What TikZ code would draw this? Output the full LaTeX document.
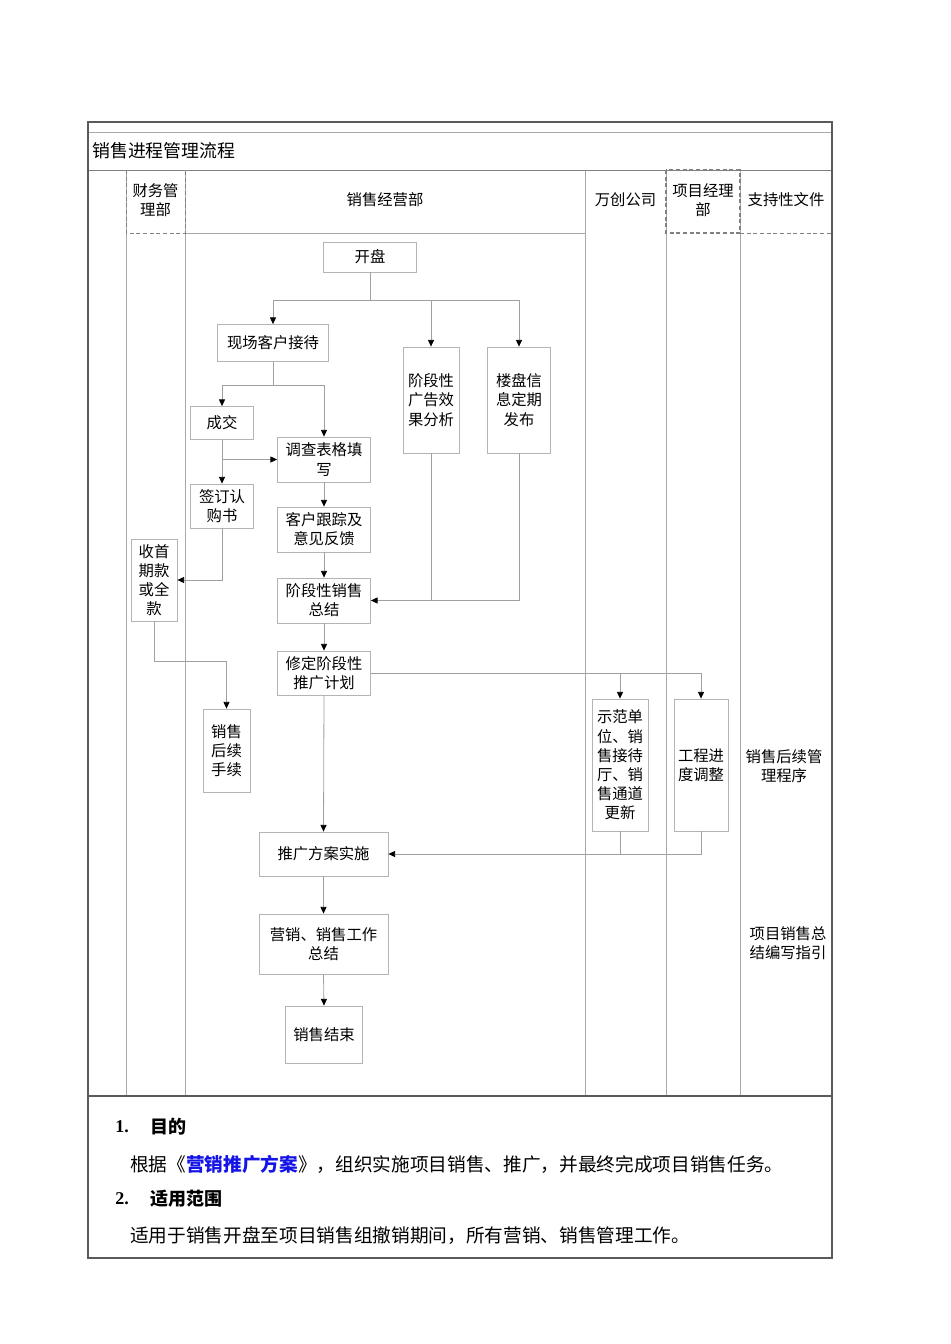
\documentclass[tikz,border=0pt]{standalone}
\usepackage{fontspec}
\setmainfont{Noto Sans CJK SC}
\newfontfamily\tnr{Liberation Serif}
\usetikzlibrary{arrows.meta}
\definecolor{linegray}{HTML}{A0A0A0}
\definecolor{boxgray}{HTML}{B4B4B4}
\definecolor{lanegray}{HTML}{A8A8A8}
\definecolor{framegray}{HTML}{5A5A5A}
\definecolor{linkblue}{HTML}{1414E6}
\begin{document}
\begin{tikzpicture}[x=0.75pt,y=-0.75pt,
  every node/.style={font=\fontsize{11.5}{14.4}\selectfont, inner sep=0pt, align=center},
  fbox/.style 2 args={draw=boxgray, line width=0.6pt, minimum width=#1*0.75pt, minimum height=#2*0.75pt},
  link/.style={draw=linegray, line width=0.6pt},
  flow/.style={link, -{Triangle[length=5pt,width=4.5pt,color=black]}},
  hdash/.style={draw=gray, line width=0.7pt, densely dashed}
]
\useasboundingbox (0,0) rectangle (950,1344);
% table frame
\draw[lanegray, line width=0.6pt] (88,132) -- (832,132);
\draw[gray, line width=0.6pt] (88,170) -- (832,170);
\foreach \x in {126,185,585,666,740} \draw[lanegray, line width=0.6pt] (\x,170) -- (\x,1096);
\draw[lanegray, line width=0.6pt] (185,233) -- (585,233);
\draw[hdash] (126,170) rectangle (185,233);
\draw[hdash] (585,170) -- (666,170);
\draw[hdash, line width=0.9pt] (666,170) rectangle (740,233);
\draw[hdash] (740,170) -- (832,170);
\draw[hdash] (740,233) -- (832,233);
\draw[framegray, line width=0.8pt] (88,1096) -- (832,1096);
\draw[framegray, line width=0.8pt] (88,122) rectangle (832,1258);

% title and headers
\node[anchor=west, font=\fontsize{13.4}{16}\selectfont] (title) at (92,151) {销售进程管理流程};
\node (h1) at (155.5,200) {财务管\\理部};
\node (h2) at (385,200) {销售经营部};
\node (h3) at (625.5,200) {万创公司};
\node (h4) at (703,200) {项目经理\\部};
\node (h5) at (786,200) {支持性文件};

% flow nodes
\node[fbox={93}{30}] (kp) at (370,257) {开盘};
\node[fbox={111}{37}] (xc) at (273,343) {现场客户接待};
\node[fbox={56}{106}] (jdg) at (431,400) {阶段性\\广告效\\果分析};
\node[fbox={63}{106}] (lp) at (519,400) {楼盘信\\息定期\\发布};
\node[fbox={63}{33}] (cj) at (222,423) {成交};
\node[fbox={93}{45}] (dc) at (324,459.5) {调查表格填\\写};
\node[fbox={63}{44}] (qd) at (222,506) {签订认\\购书};
\node[fbox={93}{45}] (kh) at (324,529.5) {客户跟踪及\\意见反馈};
\node[fbox={46}{82}] (ss) at (154,580) {收首\\期款\\或全\\款};
\node[fbox={93}{45}] (jdx) at (324,600.5) {阶段性销售\\总结};
\node[fbox={93}{44}] (xd) at (324,673) {修定阶段性\\推广计划};
\node[fbox={47}{83}] (sh) at (226.5,750.5) {销售\\后续\\手续};
\node[fbox={56}{132}] (sf) at (620,765) {示范单\\位、销\\售接待\\厅、销\\售通道\\更新};
\node[fbox={54}{132}] (gc) at (701,765) {工程进\\度调整};
\node[fbox={129}{44}] (tg) at (323.5,854) {推广方案实施};
\node[fbox={129}{60}] (yx) at (323.5,944) {营销、销售工作\\总结};
\node[fbox={77}{57}] (js) at (324,1034.5) {销售结束};

% side documents
\node (sd1) at (784,766) {销售后续管\\理程序};
\node (sd2) at (788,943) {项目销售总\\结编写指引};

% connectors
\coordinate (b1) at (370,300);
\draw[link] (kp.south) -- (b1);
\draw[flow] (b1) -| (xc.north);
\draw[flow] (b1) -| (jdg.north);
\draw[flow] (b1) -| (lp.north);
\coordinate (b2) at (273,385);
\draw[link] (xc.south) -- (b2);
\draw[flow] (b2) -| (cj.north);
\draw[flow] (b2) -| (dc.north);
\draw[flow] (cj.south) -- (qd.north);
\coordinate (b3) at (222,459.5);
\draw[flow] (b3) -- (dc.west);
\draw[flow] (qd.south) |- (ss.east);
\draw[flow] (dc.south) -- (kh.north);
\draw[flow] (kh.south) -- (jdx.north);
\draw[link] (jdg.south) -- (jdg.south |- jdx.east);
\draw[flow] (lp.south) |- (jdx.east);
\draw[flow] (jdx.south) -- (xd.north);
\coordinate (b4) at (154,661);
\draw[link] (ss.south) -- (b4);
\draw[flow] (b4) -| (sh.north);
\draw[flow] (xd.south) -- (tg.north);
\draw[flow] (xd.east) -| (gc.north);
\draw[flow] (xd.east -| sf.north) -- (sf.north);
\draw[link] (sf.south) -- (sf.south |- tg.east);
\draw[flow] (gc.south) |- (tg.east);
\draw[flow] (tg.south) -- (yx.north);
\draw[flow] (yx.south) -- (js.north);

% text below
\node[anchor=west, font=\tnr\bfseries\fontsize{13.5}{16}\selectfont] (n1) at (115,1127) {1.};
\node[anchor=west, font=\bfseries\fontsize{13.5}{16}\selectfont] (t1) at (150,1127) {目的};
\node[anchor=west, font=\fontsize{14}{17}\selectfont] (p1) at (130,1164) {根据《\textcolor{linkblue}{\bfseries 营销推广方案}》，组织实施项目销售、推广，并最终完成项目销售任务。};
\node[anchor=west, font=\tnr\bfseries\fontsize{13.5}{16}\selectfont] (n2) at (115,1199) {2.};
\node[anchor=west, font=\bfseries\fontsize{13.5}{16}\selectfont] (t2) at (150,1199) {适用范围};
\node[anchor=west, font=\fontsize{14}{17}\selectfont] (p2) at (130,1236) {适用于销售开盘至项目销售组撤销期间，所有营销、销售管理工作。};
\end{tikzpicture}
\end{document}
